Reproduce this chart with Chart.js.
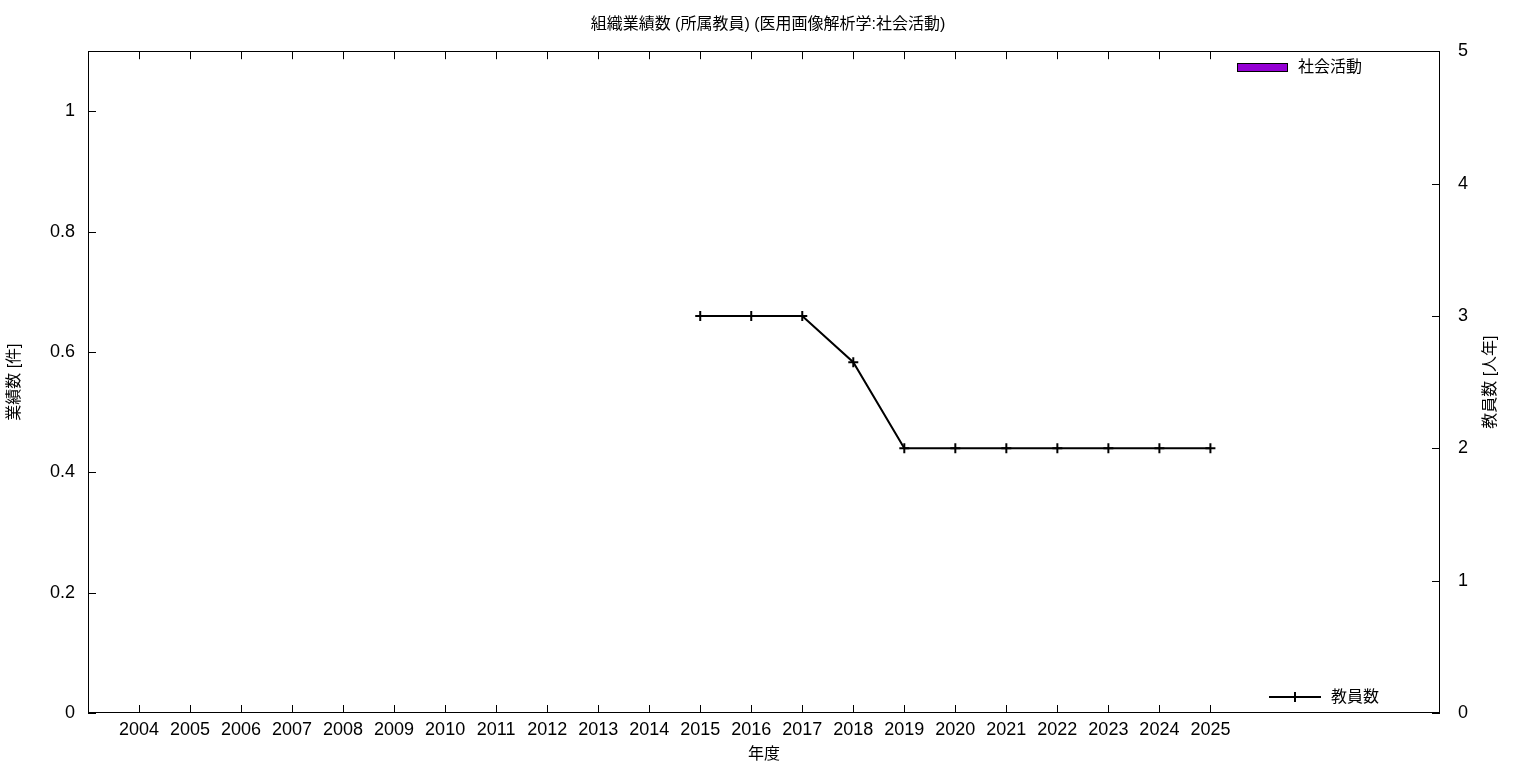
<!DOCTYPE html>
<html>
<head>
<meta charset="utf-8">
<script src="https://cdn.jsdelivr.net/npm/chart.js@4.4.1/dist/chart.umd.min.js"></script>
<style>
  html, body { margin: 0; padding: 0; background: #ffffff; }
  #wrap { width: 1536px; height: 768px; }
</style>
</head>
<body>
<div id="wrap"><canvas id="graf"></canvas></div>
<script>
// ==================== DADOS ====================
const anos = [2004, 2005, 2006, 2007, 2008, 2009, 2010, 2011, 2012, 2013, 2014,
              2015, 2016, 2017, 2018, 2019, 2020, 2021, 2022, 2023, 2024, 2025];
const atividades = [0, 0, 0, 0, 0, 0, 0, 0, 0, 0, 0,
                    0, 0, 0, 0, 0, 0, 0, 0, 0, 0, 0];            // 社会活動 (件)
const docentes = [null, null, null, null, null, null, null, null, null, null, null,
                  3, 3, 3, 2.65, 2, 2, 2, 2, 2, 2, 2];          // 教員数 (人年)
const ticksEsq = [0, 0.2, 0.4, 0.6, 0.8, 1];
const ticksDir = [0, 1, 2, 3, 4, 5];

const titulo = "組織業績数 (所属教員) (医用画像解析学:社会活動)";
const fonte = "'Liberation Sans', 'Noto Sans CJK JP', sans-serif";
const roxo = "#9400d3";

// ==================== PLUGIN: moldura, marcas e legendas ====================
const molduraGnuplot = {
    id: "molduraGnuplot",
    afterDraw(chart) {
        const ctx = chart.ctx;
        const a = chart.chartArea;
        const sx = chart.scales.x, sy = chart.scales.y, sy2 = chart.scales.y2;
        const m = 8;
        ctx.save();
        ctx.strokeStyle = "#000";
        ctx.lineWidth = 1;
        ctx.strokeRect(Math.round(a.left) + 0.5, Math.round(a.top) + 0.5,
                       Math.round(a.right - a.left) - 1, Math.round(a.bottom - a.top) - 1);
        ctx.beginPath();
        anos.forEach(v => {
            const px = Math.round(sx.getPixelForValue(v)) + 0.5;
            ctx.moveTo(px, a.bottom); ctx.lineTo(px, a.bottom - m);
            ctx.moveTo(px, a.top); ctx.lineTo(px, a.top + m);
        });
        ticksEsq.forEach(v => {
            const py = Math.round(sy.getPixelForValue(v)) + 0.5;
            ctx.moveTo(a.left, py); ctx.lineTo(a.left + m, py);
        });
        ticksDir.forEach(v => {
            const py = Math.round(sy2.getPixelForValue(v)) + 0.5;
            ctx.moveTo(a.right, py); ctx.lineTo(a.right - m, py);
        });
        ctx.stroke();

        // título do eixo direito (de baixo para cima)
        ctx.font = "16px " + fonte;
        ctx.fillStyle = "#000";
        ctx.textAlign = "center";
        ctx.textBaseline = "middle";
        ctx.save();
        ctx.translate(1491, (a.top + a.bottom) / 2);
        ctx.rotate(-Math.PI / 2);
        ctx.fillText("教員数 [人年]", 0, 0);
        ctx.restore();

        // legenda 社会活動
        const dsBar = chart.data.datasets[0];
        ctx.fillStyle = dsBar.backgroundColor;
        ctx.fillRect(1237, 63, 50, 9);
        ctx.strokeRect(1237.5, 63.5, 50, 8);
        ctx.fillStyle = "#000";
        ctx.textAlign = "left";
        ctx.fillText(dsBar.label, 1298, 68);

        // legenda 教員数
        const dsLin = chart.data.datasets[1];
        ctx.lineWidth = 2;
        ctx.beginPath();
        ctx.moveTo(1269, 697); ctx.lineTo(1321, 697);
        ctx.moveTo(1295, 692); ctx.lineTo(1295, 702);
        ctx.stroke();
        ctx.fillText(dsLin.label, 1331, 698);
        ctx.restore();
    }
};

// ==================== GRÁFICO ====================
new Chart(document.getElementById("graf"), {
    data: {
        datasets: [
            {
                type: "bar",
                label: "社会活動",
                data: anos.map((a, i) => ({ x: a, y: atividades[i] })),
                backgroundColor: roxo,
                borderColor: "#000",
                borderWidth: 1,
                yAxisID: "y",
                barThickness: 40
            },
            {
                type: "line",
                label: "教員数",
                data: anos.map((a, i) => ({ x: a, y: docentes[i] })),
                borderColor: "#000",
                backgroundColor: "#000",
                borderWidth: 2,
                pointStyle: "cross",
                pointRadius: 5,
                pointBorderWidth: 2,
                tension: 0,
                yAxisID: "y2"
            }
        ]
    },
    options: {
        responsive: true,
        maintainAspectRatio: false,
        animation: false,
        layout: { padding: 0 },
        plugins: {
            legend: { display: false },
            tooltip: { enabled: false },
            title: {
                display: true,
                text: titulo,
                color: "#000",
                font: { family: fonte, size: 16, weight: "normal" },
                padding: { top: 15, bottom: 17 }
            }
        },
        scales: {
            x: {
                type: "linear",
                offset: false,
                min: 2003,
                max: 2029.5,
                afterBuildTicks: s => { s.ticks = anos.map(v => ({ value: v })); },
                afterFit: s => { s.height = 55; },
                ticks: {
                    color: "#000",
                    font: { family: fonte, size: 18 },
                    padding: 6,
                    maxRotation: 0,
                    autoSkip: false,
                    callback: v => String(v)
                },
                grid: { display: false, drawTicks: false, offset: false },
                border: { display: false },
                title: {
                    display: true,
                    text: "年度",
                    color: "#000",
                    font: { family: fonte, size: 16 },
                    padding: { top: 0, bottom: 4 }
                }
            },
            y: {
                position: "left",
                min: 0,
                max: 1.1,
                afterBuildTicks: s => { s.ticks = ticksEsq.map(v => ({ value: v })); },
                afterFit: s => { s.width = 88; },
                ticks: {
                    color: "#000",
                    font: { family: fonte, size: 18 },
                    padding: 13,
                    callback: v => String(Number(v.toFixed(1)))
                },
                grid: { display: false, drawTicks: false },
                border: { display: false },
                title: {
                    display: true,
                    text: "業績数 [件]",
                    color: "#000",
                    font: { family: fonte, size: 16 },
                    padding: { top: 5, bottom: 0 }
                }
            },
            y2: {
                position: "right",
                min: 0,
                max: 5,
                afterBuildTicks: s => { s.ticks = ticksDir.map(v => ({ value: v })); },
                afterFit: s => { s.width = 96; },
                ticks: {
                    color: "#000",
                    font: { family: fonte, size: 18 },
                    padding: 18
                },
                grid: { display: false, drawTicks: false },
                border: { display: false }
            }
        }
    },
    plugins: [molduraGnuplot]
});
</script>
</body>
</html>
